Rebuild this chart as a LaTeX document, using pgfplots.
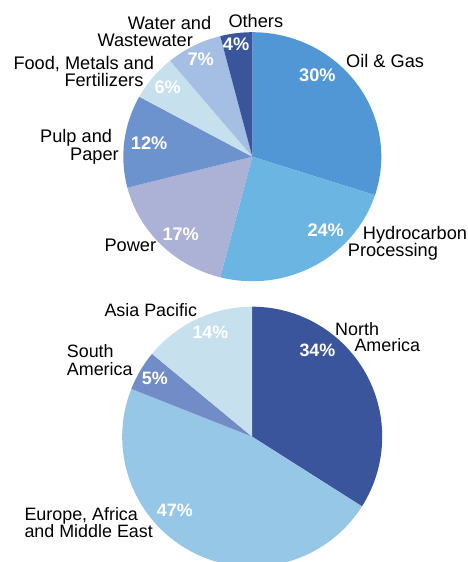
\documentclass[border=0pt]{standalone}
\usepackage{pgfplots}
\pgfplotsset{compat=1.18}
\usepackage{pgfplotstable}
\usepackage{fontspec}
\setmainfont{Liberation Sans}

\definecolor{oilgas}{HTML}{5197D5}
\definecolor{hydro}{HTML}{6BB5E3}
\definecolor{power}{HTML}{ACB1D6}
\definecolor{pulp}{HTML}{6C93CE}
\definecolor{food}{HTML}{C6E0EE}
\definecolor{water}{HTML}{A4BFE3}
\definecolor{others}{HTML}{3A559C}
\definecolor{namer}{HTML}{3A559B}
\definecolor{europe}{HTML}{97C7E7}
\definecolor{samer}{HTML}{718CC6}
\definecolor{asia}{HTML}{C6E0EE}

\pgfplotstableread{
pct col
30 oilgas
24 hydro
17 power
12 pulp
6 food
7 water
4 others
}\toppie

\pgfplotstableread{
pct col
34 namer
47 europe
5 samer
14 asia
}\botpie

% draws the slices of a table, clockwise from 12 o'clock
\newcommand{\drawpie}[3]{%
  \gdef\cum{0}%
  \pgfplotstablegetrowsof{#1}%
  \pgfmathtruncatemacro\nrows{\pgfplotsretval-1}%
  \pgfplotsforeachungrouped \i in {0,...,\nrows}{%
    \pgfplotstablegetelem{\i}{pct}\of{#1}\let\pct\pgfplotsretval
    \pgfplotstablegetelem{\i}{col}\of{#1}\let\col\pgfplotsretval
    \pgfmathsetmacro\sa{90-3.6*\cum}%
    \pgfmathsetmacro\ea{90-3.6*(\cum+\pct)}%
    \edef\tmp{\noexpand\fill[\col] (axis cs:0,0) -- (axis cs:{cos(\sa)},{sin(\sa)}) arc[start angle=\sa,end angle=\ea,x radius=#2,y radius=#3] -- cycle;}%
    \tmp
    \pgfmathsetmacro\newcum{\cum+\pct}%
    \xdef\cum{\newcum}%
  }%
}

\begin{document}
\begin{tikzpicture}[
  labt/.style={anchor=base west,inner sep=0pt,font=\fontsize{18.2}{17}\selectfont},
  plt/.style={anchor=base west,inner sep=0pt,text=white,font=\fontsize{18.2}{17}\selectfont\bfseries},
  labb/.style={anchor=base west,inner sep=0pt,font=\fontsize{17.9}{17}\selectfont},
  plb/.style={anchor=base west,inner sep=0pt,text=white,font=\fontsize{17.9}{17}\selectfont\bfseries}]
\useasboundingbox (0,0) rectangle (468pt,-562pt);

\begin{axis}[
  at={(252.3pt,-156.7pt)}, anchor=origin,
  scale only axis, width=258pt, height=249pt,
  xmin=-1, xmax=1, ymin=-1, ymax=1,
  hide axis, clip=false]
  \drawpie{\toppie}{129pt}{124.5pt}
\end{axis}

\begin{axis}[
  at={(252.2pt,-436.7pt)}, anchor=origin,
  scale only axis, width=260pt, height=260pt,
  xmin=-1, xmax=1, ymin=-1, ymax=1,
  hide axis, clip=false]
  \drawpie{\botpie}{130pt}{130pt}
\end{axis}

% top pie labels
\node[labt] at (346pt,-67.7pt) {Oil \& Gas};
\node[plt]  at (299pt,-81.7pt) {30\%};
\node[labt] at (362.7pt,-239.3pt) {Hydrocarbon};
\node[labt] at (347.7pt,-256pt) {Processing};
\node[plt]  at (307.3pt,-236.7pt) {24\%};
\node[labt] at (104.3pt,-251.7pt) {Power};
\node[plt]  at (162.3pt,-240.7pt) {17\%};
\node[labt] at (40pt,-142.7pt) {Pulp and};
\node[labt] at (70pt,-160.7pt) {Paper};
\node[plt]  at (130.7pt,-149.3pt) {12\%};
\node[labt] at (13.3pt,-69pt) {Food, Metals and};
\node[labt] at (64.3pt,-86.7pt) {Fertilizers};
\node[plt]  at (154.3pt,-93.3pt) {6\%};
\node[labt] at (127.7pt,-29.3pt) {Water and};
\node[labt] at (97.3pt,-46pt) {Wastewater};
\node[plt]  at (187.3pt,-65pt) {7\%};
\node[labt] at (228.3pt,-27.7pt) {Others};
\node[plt]  at (222.7pt,-50pt) {4\%};

% bottom pie labels
\node[labb] at (104.3pt,-316pt) {Asia Pacific};
\node[plb]  at (192.3pt,-338.3pt) {14\%};
\node[labb] at (335pt,-335.7pt) {North};
\node[labb] at (354.3pt,-351.7pt) {America};
\node[plb]  at (299.3pt,-356.7pt) {34\%};
\node[labb] at (66.7pt,-357.7pt) {South};
\node[labb] at (66.7pt,-375pt) {America};
\node[plb]  at (141.7pt,-384.3pt) {5\%};
\node[labb] at (24.3pt,-520pt) {Europe, Africa};
\node[labb] at (24.3pt,-537.3pt) {and Middle East};
\node[plb]  at (156.7pt,-516.7pt) {47\%};
\end{tikzpicture}
\end{document}
